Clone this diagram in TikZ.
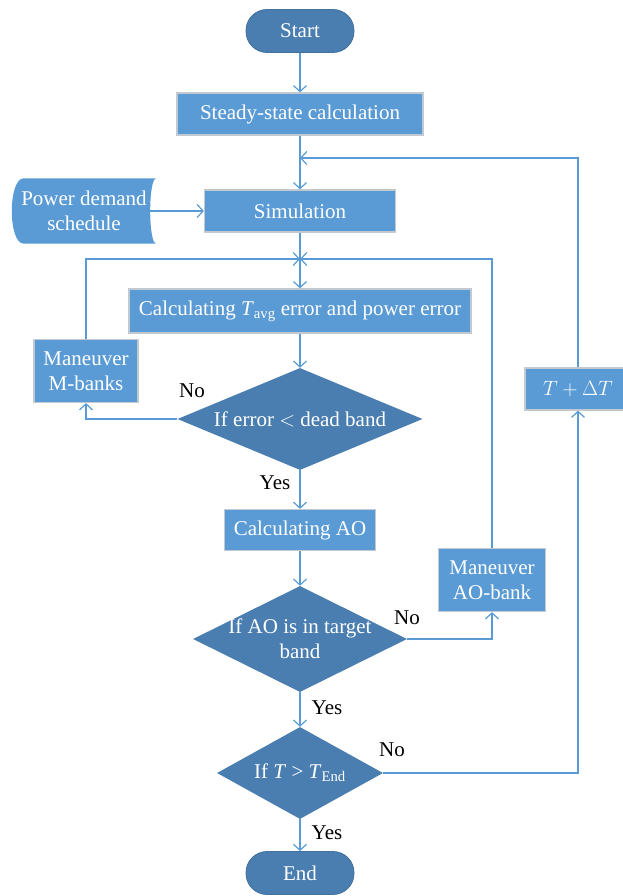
\documentclass[tikz,border=0pt]{standalone}
\usepackage{fontspec}
\setmainfont{Liberation Serif}
\usetikzlibrary{arrows.meta,shapes.geometric,calc}
\definecolor{boxblue}{HTML}{5B9BD5}
\definecolor{darkblue}{HTML}{4A7EB0}
\definecolor{boxedge}{HTML}{C3C9D0}
\definecolor{termedge}{HTML}{41719C}

\tikzset{
  flowtext/.style={font=\fontsize{21}{25}\selectfont, text=white, align=center},
  procbox/.style={flowtext, rectangle, fill=boxblue, draw=boxedge, line width=1.2pt, inner sep=0pt},
  termbox/.style={flowtext, rectangle, rounded corners=21pt, fill=darkblue, draw=termedge, line width=0.8pt,
    minimum width=108pt, minimum height=43pt, inner sep=0pt},
  decbox/.style={flowtext, diamond, fill=darkblue, inner sep=-12pt},
  flowline/.style={draw=boxblue, line width=1.2pt},
  flowarrow/.style={flowline, -{Straight Barb[length=6pt,width=13pt]}},
  answer/.style={font=\fontsize{21}{24}\selectfont, text=black},
}

\begin{document}
\begin{tikzpicture}[x=1pt,y=-1pt]
    \path[fill=white] (0,0) rectangle (623,896);
    \useasboundingbox (0,0) rectangle (623,896);

    % main column
    \node[termbox] (start) at (300,31) {Start};
    \node[procbox, minimum width=246pt, minimum height=42pt] (steady) at (300,114) {Steady-state calculation};
    \node[procbox, minimum width=191pt, minimum height=42pt] (sim) at (300,211) {Simulation};
    \node[procbox, minimum width=342pt, minimum height=44pt] (calc) at (300,311)
        {Calculating \textit{T}\textsubscript{avg} error and power error};
    \node[decbox, shape aspect=2.4, minimum width=245pt, minimum height=102pt] (err) at (300,419)
        {If error $<$ dead band};
    \node[procbox, minimum width=151pt, minimum height=41pt] (cao) at (300,530) {Calculating AO};
    \node[decbox, shape aspect=2, minimum width=214pt, minimum height=106pt] (aoband) at (300,639)
        {If AO is in target\\band};
    \node[decbox, shape aspect=1.8, minimum width=166pt, minimum height=92pt] (tend) at (300,773)
        {If \textit{T} > \textit{T}\textsubscript{End}};
    \node[termbox] (end) at (300,873) {End};

    % side boxes
    \node[procbox, minimum width=104pt, minimum height=63pt] (mbank) at (86,371) {Maneuver\\M-banks};
    \node[procbox, minimum width=107pt, minimum height=63pt] (aobank) at (492,580) {Maneuver\\AO-bank};
    \node[procbox, minimum width=106pt, minimum height=42pt] (tstep) at (578,389) {$T + \Delta T$};

    % power demand schedule (stored data)
    \node[flowtext, minimum width=144pt, minimum height=65pt, inner sep=0pt] (pds) at (84,211) {};
    \fill[boxblue] ([xshift=12pt]pds.north west)
        .. controls ([xshift=-4pt]pds.north west) and ([xshift=-4pt]pds.south west) .. ([xshift=12pt]pds.south west)
        -- (pds.south east)
        .. controls ([xshift=-8pt]pds.south east) and ([xshift=-8pt]pds.north east) .. (pds.north east) -- cycle;
    \node[flowtext] at (pds) {Power demand\\schedule};

    \coordinate (join1) at (300,158);
    \coordinate (join2) at (300,259);

    % connectors
    \draw[flowarrow] (start) -- (steady);
    \draw[flowarrow] (steady) -- (sim);
    \draw[flowarrow] ([xshift=-6pt]pds.east) -- (sim);
    \draw[flowarrow] (sim) -- (calc);
    \draw[flowarrow] (calc) -- (err);
    \draw[flowarrow] (err) -- (cao);
    \draw[flowarrow] (cao) -- (aoband);
    \draw[flowarrow] (aoband) -- (tend);
    \draw[flowarrow] (tend) -- (end);

    \draw[flowarrow] (err.west) -| (mbank.south);
    \draw[flowarrow] (mbank.north) |- (join2);
    \draw[flowarrow] (aoband.east) -| (aobank.south);
    \draw[flowarrow] (aobank.north) |- (join2);
    \draw[flowarrow] (tend.east) -| (tstep.south);
    \draw[flowarrow] (tstep.north) |- (join1);

    % answers
    \node[answer] (no1) at (192,391) {No};
    \node[answer] (yes1) at (275,483) {Yes};
    \node[answer] (no2) at (407,618) {No};
    \node[answer] (yes2) at (327,708) {Yes};
    \node[answer] (no3) at (392,750) {No};
    \node[answer] (yes3) at (327,833) {Yes};
\end{tikzpicture}
\end{document}
